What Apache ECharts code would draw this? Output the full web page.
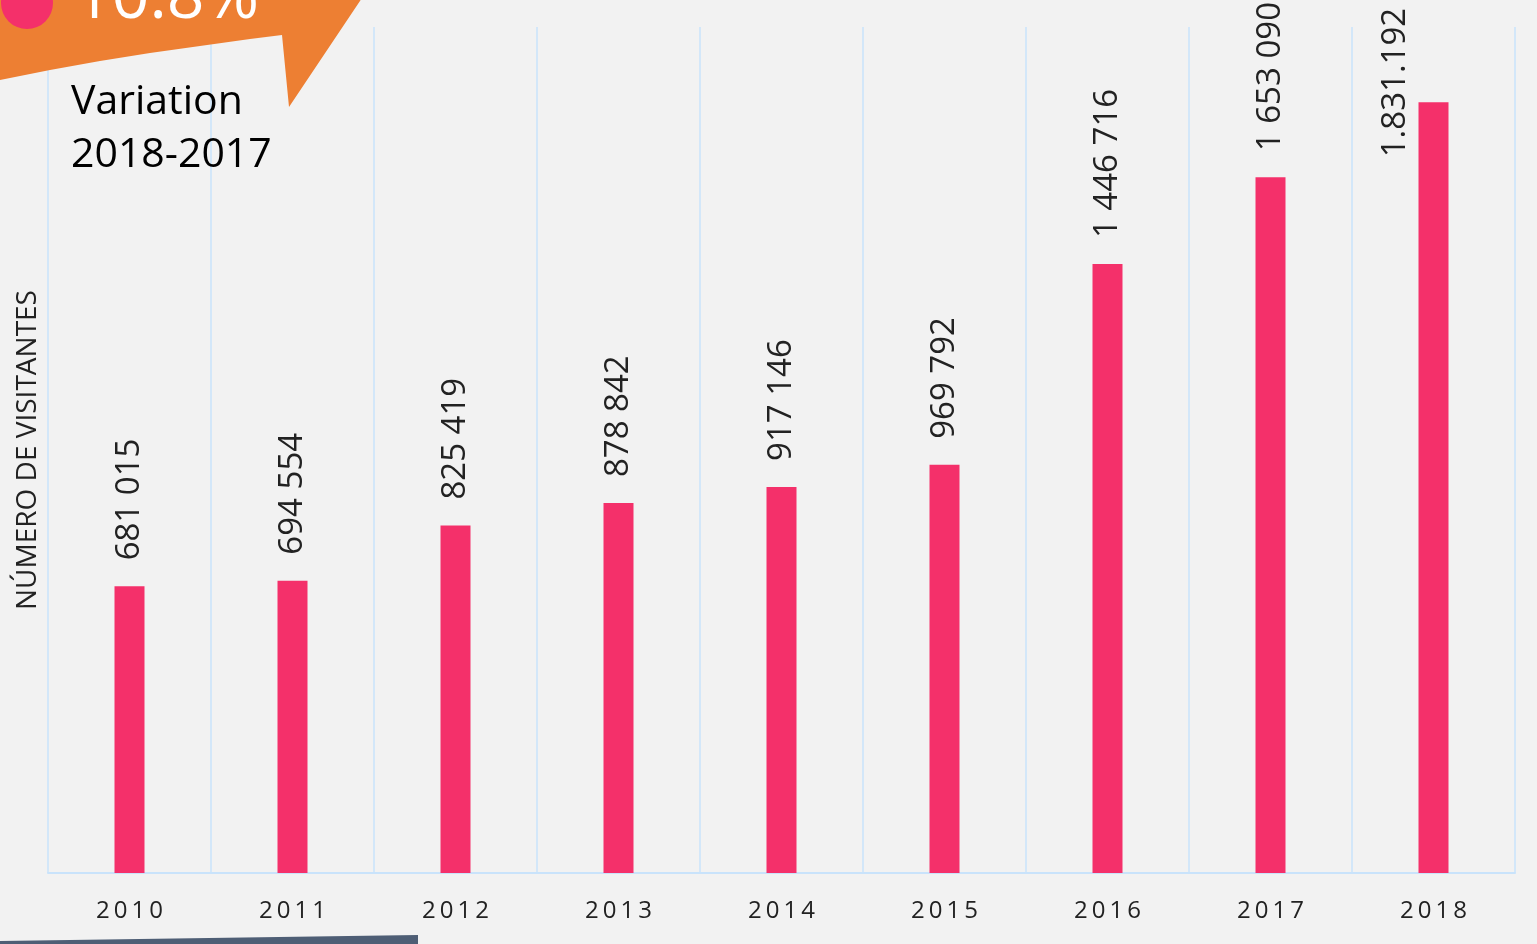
<!DOCTYPE html>
<html>
<head>
<meta charset="utf-8">
<script src="https://cdn.jsdelivr.net/npm/echarts@6/dist/echarts.min.js"></script>
<style>
html,body{margin:0;padding:0;background:#f2f2f2;}
#c{width:1537px;height:944px;}
</style>
</head>
<body>
<div id="c"></div>
<script>
const years = ['2010','2011','2012','2013','2014','2015','2016','2017','2018'];
const visitors = [681015, 694554, 825419, 878842, 917146, 969792, 1446716, 1653090, 1831192];
const valueLabels = ['681 015','694 554','825 419','878 842','917 146','969 792','1 446 716','1 653 090','1.831.192'];
const yAxisName = 'NÚMERO DE VISITANTES';
const badgeValue = '10.8%';
const badgeText = 'Variation\n2018-2017';

const chart = echarts.init(document.getElementById('c'));
const FONT = '"Open Sans", "Noto Sans", sans-serif';
const barData = visitors.map((v, i) => i === visitors.length - 1
  ? {value: v, label: {offset: [-81, -38]}}
  : v);
chart.setOption({
  backgroundColor: '#f2f2f2',
  animation: false,
  grid: {left: 48, right: 22, top: 27, bottom: 71, containLabel: false, outerBoundsMode: 'none'},
  xAxis: {
    type: 'category',
    data: years,
    axisLine: {show: true, lineStyle: {color: '#c9e3fb', width: 2}},
    axisTick: {show: false},
    splitLine: {show: true, lineStyle: {color: '#c9e3fb', width: 1.5}},
    axisLabel: {
      color: '#222', fontSize: 24, fontFamily: FONT, margin: 26,
      formatter: v => v.split('').join('\u2009')
    }
  },
  yAxis: {
    type: 'value', min: 0, max: 2010000,
    axisLine: {show: false}, axisTick: {show: false}, axisLabel: {show: false},
    splitLine: {show: false},
    name: yAxisName, nameLocation: 'middle', nameRotate: 90, nameGap: 6,
    nameTextStyle: {color: '#222', fontSize: 28, fontFamily: FONT}
  },
  series: [{
    type: 'bar',
    data: barData,
    barWidth: 30,
    itemStyle: {color: '#f4306a'},
    label: {
      show: true, position: 'top', rotate: 90, align: 'left', verticalAlign: 'middle',
      distance: 26, color: '#222', fontSize: 33, fontFamily: FONT,
      formatter: p => valueLabels[p.dataIndex]
    }
  }],
  graphic: [
    {type: 'polygon', z: 10, shape: {points: [[0,-5],[0,80],[50,70],[100,61],[150,53],[200,46],[250,39],[282,35],[289,107],[364,-5]]}, style: {fill: '#ed7f33'}},
    {type: 'circle', z: 11, shape: {cx: 27, cy: 3, r: 26}, style: {fill: '#f4306a'}},
    {type: 'text', z: 12, left: 74, top: -34, style: {text: badgeValue, fill: '#ffffff', font: '400 66px "Open Sans", sans-serif'}},
    {type: 'text', z: 12, left: 71, top: 76, style: {text: badgeText, fill: '#000', font: '400 41px "Open Sans", sans-serif', lineHeight: 53}},
    {type: 'polygon', z: 10, shape: {points: [[0,941],[418,935],[418,944],[0,944]]}, style: {fill: '#4e5e75'}}
  ]
});
</script>
</body>
</html>
